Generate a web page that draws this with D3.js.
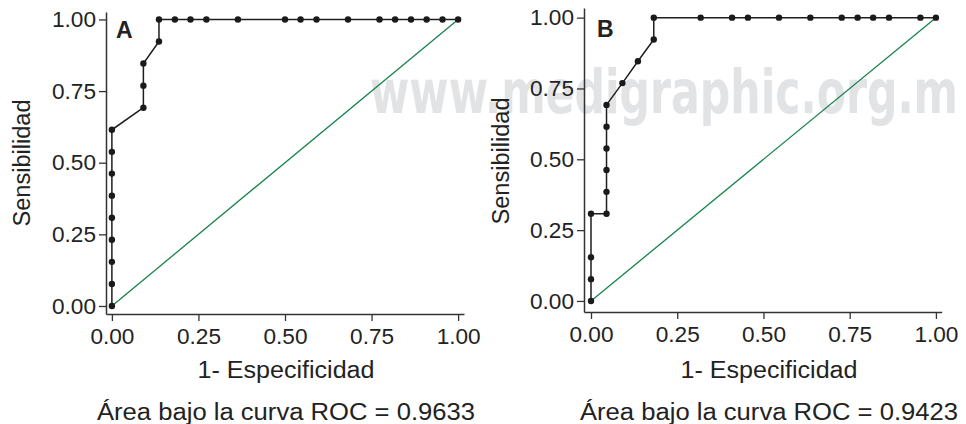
<!DOCTYPE html>
<html>
<head>
<meta charset="utf-8">
<script src="https://cdn.jsdelivr.net/npm/d3@7"></script>
<style>
  body { margin: 0; background: #fff; }
  svg text { font-family: "Liberation Sans", Arial, Helvetica, sans-serif; fill: #222; }
</style>
</head>
<body>
<div id="chart"></div>
<script>
// ROC curve A
const fprA = [0, 0, 0, 0, 0, 0, 0, 0, 0, 0.091, 0.091, 0.091, 0.136, 0.136, 0.182, 0.227, 0.273, 0.364, 0.5, 0.545, 0.591, 0.682, 0.773, 0.818, 0.864, 0.909, 0.955, 1]
const tprA = [0, 0.077, 0.154, 0.231, 0.308, 0.385, 0.462, 0.538, 0.615, 0.692, 0.769, 0.846, 0.923, 1, 1, 1, 1, 1, 1, 1, 1, 1, 1, 1, 1, 1, 1, 1]
// ROC curve B
const fprB = [0, 0, 0, 0, 0.045, 0.045, 0.045, 0.045, 0.045, 0.045, 0.091, 0.136, 0.182, 0.182, 0.318, 0.409, 0.455, 0.545, 0.636, 0.727, 0.773, 0.818, 0.864, 0.955, 1]
const tprB = [0, 0.077, 0.154, 0.308, 0.308, 0.385, 0.462, 0.538, 0.615, 0.692, 0.769, 0.846, 0.923, 1, 1, 1, 1, 1, 1, 1, 1, 1, 1, 1, 1]

const ticks = [0, 0.25, 0.5, 0.75, 1]
const tickLabels = ["0.00", "0.25", "0.50", "0.75", "1.00"]
const panelLetters = ["A", "B"]
const aucLabels = ["Área bajo la curva ROC = 0.9633", "Área bajo la curva ROC = 0.9423"]
const xTitle = "1- Especificidad"
const yTitle = "Sensibilidad"

const width = 966, height = 424

var svg = d3.select("#chart").append("svg")
  .attr("width", width).attr("height", height)

// watermark behind everything
svg.append("text")
  .attr("x", 370).attr("y", 113)
  .attr("textLength", 588).attr("lengthAdjust", "spacingAndGlyphs")
  .style("font-family", "'DejaVu Sans Condensed', 'Liberation Sans', sans-serif")
  .style("font-weight", "bold")
  .style("font-size", "61px")
  .style("fill", "#e2e3e5")
  .text("www.medigraphic.org.m")

// layout of the two panels (pixel positions of axis extents)
const panels = [
  { fpr: fprA, tpr: tprA, xr: [106, 464], xd: [-0.017, 1.017], yr: [314, 12], yd: [-0.028, 1.026],
    letterX: 116, letterY: 38, titleX: 286, ytX: 30, ytY: 163 },
  { fpr: fprB, tpr: tprB, xr: [584, 941.7], xd: [-0.0203, 1.0168], yr: [312, 8], yd: [-0.039, 1.034],
    letterX: 597, letterY: 37, titleX: 769, ytX: 509, ytY: 161 }
]

panels.forEach(function(p, i) {
  var x = d3.scaleLinear().domain(p.xd).range(p.xr)
  var y = d3.scaleLinear().domain(p.yd).range(p.yr)
  var g = svg.append("g")

  // reference diagonal
  g.append("line")
    .attr("x1", x(0)).attr("y1", y(0))
    .attr("x2", x(1)).attr("y2", y(1))
    .attr("stroke", "#15834a").attr("stroke-width", 1.3)

  // axes
  var xAxis = d3.axisBottom(x).tickValues(ticks).tickSize(7).tickSizeOuter(0)
    .tickFormat(function(d, j) { return tickLabels[j] })
  var yAxis = d3.axisLeft(y).tickValues(ticks).tickSize(7).tickSizeOuter(0)
    .tickFormat(function(d, j) { return tickLabels[j] })

  var gx = g.append("g").attr("transform", "translate(0," + p.yr[0] + ")").call(xAxis)
  var gy = g.append("g").attr("transform", "translate(" + p.xr[0] + ",0)").call(yAxis)
  ;[gx, gy].forEach(function(a) {
    a.select(".domain").attr("stroke", "#333").attr("stroke-width", 1.5)
    a.selectAll(".tick line").attr("stroke", "#333").attr("stroke-width", 1.3)
    a.selectAll(".tick text").style("font-size", "22.5px").attr("fill", "#222")
      .style("font-family", "'Liberation Sans', Arial, sans-serif")
      .attr("textLength", 44).attr("lengthAdjust", "spacingAndGlyphs")
  })
  gx.selectAll(".tick text").attr("dy", "0.9em")
  gy.selectAll(".tick text").attr("x", -10)

  // ROC curve
  var pts = p.fpr.map(function(f, k) { return [f, p.tpr[k]] })
  var line = d3.line().x(function(d) { return x(d[0]) }).y(function(d) { return y(d[1]) })
  g.append("path").datum(pts)
    .attr("d", line).attr("fill", "none")
    .attr("stroke", "#1e1e1e").attr("stroke-width", 1.5)
  g.selectAll("circle").data(pts).enter().append("circle")
    .attr("cx", function(d) { return x(d[0]) })
    .attr("cy", function(d) { return y(d[1]) })
    .attr("r", 3.2).attr("fill", "#1a1a1a")

  // texts
  g.append("text").attr("x", p.letterX).attr("y", p.letterY)
    .style("font-size", "23px").style("font-weight", "bold").text(panelLetters[i])
  g.append("text").attr("x", p.titleX).attr("y", 378)
    .attr("text-anchor", "middle").style("font-size", "23px")
    .attr("textLength", 177).attr("lengthAdjust", "spacingAndGlyphs").text(xTitle)
  g.append("text").attr("x", p.titleX).attr("y", 420)
    .attr("text-anchor", "middle").style("font-size", "23px")
    .attr("textLength", 378).attr("lengthAdjust", "spacingAndGlyphs").text(aucLabels[i])
  g.append("text")
    .attr("transform", "translate(" + p.ytX + "," + p.ytY + ") rotate(-90)")
    .attr("text-anchor", "middle").style("font-size", "23px")
    .attr("textLength", 127).attr("lengthAdjust", "spacingAndGlyphs").text(yTitle)
})
</script>
</body>
</html>
